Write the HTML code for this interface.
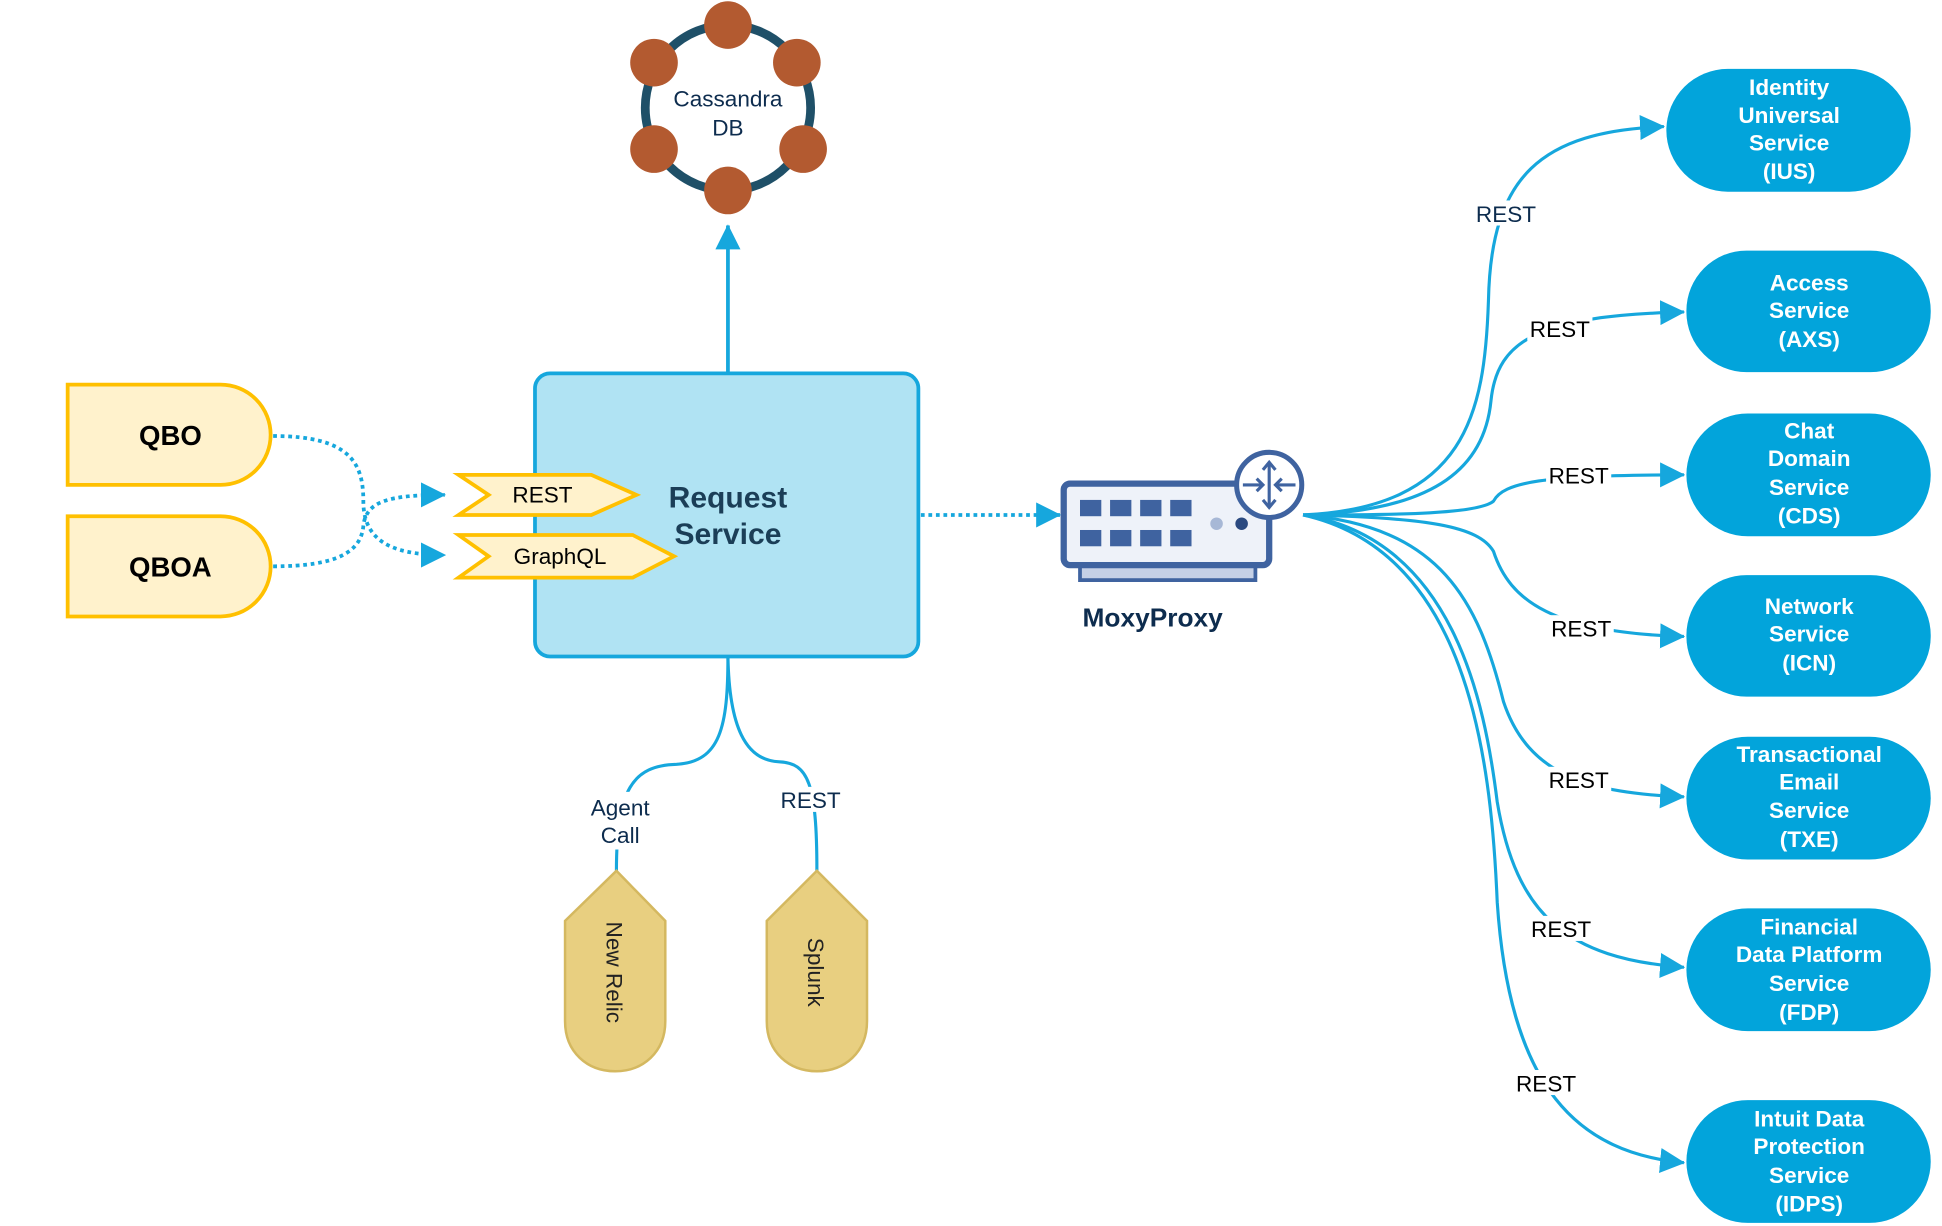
<!DOCTYPE html>
<html><head><meta charset="utf-8"><style>
html,body{margin:0;padding:0;background:#fff;}
svg{display:block;}
text{font-family:"Liberation Sans",sans-serif;}
</style></head><body>
<svg width="1942" height="1226" viewBox="0 0 1550 978.5" preserveAspectRatio="none" xmlns="http://www.w3.org/2000/svg">
<defs>
<marker id="ah" markerWidth="10" markerHeight="10" refX="9" refY="5" orient="auto" markerUnits="userSpaceOnUse" viewBox="0 0 10 10">
<path d="M0,0 L10,5 L0,10 z" fill="#16a7dd"/></marker>
<marker id="ah2" markerWidth="20" markerHeight="20" refX="19" refY="10" orient="auto" markerUnits="userSpaceOnUse" viewBox="0 0 20 20">
<path d="M0,0 L20,10 L0,20 z" fill="#16a7dd"/></marker>
</defs>

<!-- Cassandra -->
<circle cx="581" cy="86" r="66" fill="none" stroke="#1f5068" stroke-width="7"/>
<g fill="#b35a30">
<circle cx="581" cy="20" r="19"/><circle cx="636" cy="50" r="19"/><circle cx="641" cy="119" r="19"/>
<circle cx="581" cy="152" r="19"/><circle cx="522" cy="119" r="19"/><circle cx="522" cy="50" r="19"/>
</g>
<text x="581" y="85" font-size="18" fill="#0d2c4e" text-anchor="middle">Cassandra</text>
<text x="581" y="108" font-size="18" fill="#0d2c4e" text-anchor="middle">DB</text>

<line x1="581" y1="298" x2="581" y2="180" stroke="#16a7dd" stroke-width="3" marker-end="url(#ah2)"/>

<!-- Request box -->
<rect x="427" y="298" width="306" height="226" rx="12" fill="#b0e3f3" stroke="#16a7dd" stroke-width="3"/>
<text x="581" y="405" font-size="24" font-weight="bold" fill="#1b3e57" text-anchor="middle">Request</text>
<text x="581" y="434" font-size="24" font-weight="bold" fill="#1b3e57" text-anchor="middle">Service</text>

<!-- QBO / QBOA -->
<path d="M54,307 L176,307 A40,40 0 0 1 216,347 A40,40 0 0 1 176,387 L54,387 Z" fill="#fff2cc" stroke="#ffc000" stroke-width="3"/>
<text x="136" y="355" font-size="22" font-weight="bold" fill="#000" text-anchor="middle">QBO</text>
<path d="M54,412 L176,412 A40,40 0 0 1 216,452 A40,40 0 0 1 176,492 L54,492 Z" fill="#fff2cc" stroke="#ffc000" stroke-width="3"/>
<text x="136" y="460" font-size="22" font-weight="bold" fill="#000" text-anchor="middle">QBOA</text>

<path d="M218,348 C280,348 290,370 290,400 C290,430 310,443 355,443" fill="none" stroke="#16a7dd" stroke-width="3" stroke-dasharray="3,3" marker-end="url(#ah2)"/>
<path d="M218,452 C270,452 288,440 290,420 C292,400 310,395 355,395" fill="none" stroke="#16a7dd" stroke-width="3" stroke-dasharray="3,3" marker-end="url(#ah2)"/>

<!-- Tags -->
<path d="M366,379 L472,379 L508,395 L472,411 L366,411 L390,395 Z" fill="#fff2cc" stroke="#ffc000" stroke-width="3"/>
<text x="433" y="401" font-size="18" fill="#000" text-anchor="middle">REST</text>
<path d="M366,427 L505,427 L538,444 L505,461 L366,461 L390,444 Z" fill="#fff2cc" stroke="#ffc000" stroke-width="3"/>
<text x="447" y="450" font-size="18" fill="#000" text-anchor="middle">GraphQL</text>

<line x1="735" y1="411" x2="846" y2="411" stroke="#16a7dd" stroke-width="3" stroke-dasharray="3,3" marker-end="url(#ah2)"/>

<!-- MoxyProxy -->
<rect x="862" y="449" width="140" height="14" fill="#c5d0e6" stroke="#3f63a0" stroke-width="3"/>
<rect x="849" y="386" width="164" height="65" rx="5" fill="#eef2f9" stroke="#3f63a0" stroke-width="5"/>
<g fill="#3f63a0">
<rect x="862" y="399" width="17" height="13"/><rect x="886" y="399" width="17" height="13"/><rect x="910" y="399" width="17" height="13"/><rect x="934" y="399" width="17" height="13"/>
<rect x="862" y="423" width="17" height="13"/><rect x="886" y="423" width="17" height="13"/><rect x="910" y="423" width="17" height="13"/><rect x="934" y="423" width="17" height="13"/>
</g>
<circle cx="971" cy="418" r="5" fill="#a7b8d6"/><circle cx="991" cy="418" r="5" fill="#2b4a80"/>
<circle cx="1013" cy="387" r="26" fill="#fff" stroke="#3f63a0" stroke-width="4"/>
<g stroke="#3f63a0" stroke-width="2.5" fill="none">
<line x1="1013" y1="370" x2="1013" y2="404"/><path d="M1008,375 L1013,369 L1018,375 M1008,399 L1013,405 L1018,399"/>
<line x1="992" y1="387" x2="1008" y2="387"/><path d="M1003,382 L1008,387 L1003,392"/>
<line x1="1018" y1="387" x2="1034" y2="387"/><path d="M1023,382 L1018,387 L1023,392"/>
</g>
<text x="920" y="500" font-size="21" font-weight="bold" fill="#0d2c4e" text-anchor="middle">MoxyProxy</text>

<!-- Fan connectors -->
<g fill="none" stroke="#16a7dd" stroke-width="2.5">
<path d="M1040,411 C1170,405 1185,330 1188,240 C1190,140 1230,105 1328,101" marker-end="url(#ah2)"/>
<path d="M1040,411 C1150,408 1185,370 1190,320 C1195,270 1230,252 1344,249" marker-end="url(#ah2)"/>
<path d="M1040,411 C1120,411 1180,410 1192,400 C1200,385 1230,379 1344,379" marker-end="url(#ah2)"/>
<path d="M1040,411 C1140,413 1180,420 1192,440 C1205,480 1240,505 1344,508" marker-end="url(#ah2)"/>
<path d="M1040,411 C1150,420 1180,480 1200,560 C1220,620 1270,633 1344,636" marker-end="url(#ah2)"/>
<path d="M1040,411 C1160,430 1185,560 1195,640 C1210,730 1250,765 1344,772" marker-end="url(#ah2)"/>
<path d="M1040,411 C1170,440 1190,600 1195,720 C1205,870 1260,920 1344,928" marker-end="url(#ah2)"/>
</g>
<g font-size="18" text-anchor="middle">
<rect x="1176" y="160" width="52" height="20" fill="#fff"/><text x="1202" y="177" fill="#0d2c4e">REST</text>
<rect x="1219" y="252" width="52" height="20" fill="#fff"/><text x="1245" y="269" fill="#000">REST</text>
<rect x="1234" y="369" width="52" height="20" fill="#fff"/><text x="1260" y="386" fill="#000">REST</text>
<rect x="1236" y="491" width="52" height="20" fill="#fff"/><text x="1262" y="508" fill="#000">REST</text>
<rect x="1234" y="612" width="52" height="20" fill="#fff"/><text x="1260" y="629" fill="#000">REST</text>
<rect x="1220" y="731" width="52" height="20" fill="#fff"/><text x="1246" y="748" fill="#000">REST</text>
<rect x="1208" y="854" width="52" height="20" fill="#fff"/><text x="1234" y="871" fill="#000">REST</text>
</g>

<!-- Services -->
<g fill="#02a4db">
<rect x="1330" y="55" width="195" height="98" rx="49"/>
<rect x="1346" y="200" width="195" height="97" rx="48"/>
<rect x="1346" y="330" width="195" height="98" rx="49"/>
<rect x="1346" y="459" width="195" height="97" rx="48"/>
<rect x="1346" y="588" width="195" height="98" rx="49"/>
<rect x="1346" y="725" width="195" height="98" rx="49"/>
<rect x="1346" y="878" width="195" height="98" rx="49"/>
</g>
<g font-size="18" font-weight="bold" fill="#fff" text-anchor="middle">
<text x="1428" y="76">Identity</text><text x="1428" y="98">Universal</text><text x="1428" y="120">Service</text><text x="1428" y="143">(IUS)</text>
<text x="1444" y="232">Access</text><text x="1444" y="254">Service</text><text x="1444" y="277">(AXS)</text>
<text x="1444" y="350">Chat</text><text x="1444" y="372">Domain</text><text x="1444" y="395">Service</text><text x="1444" y="418">(CDS)</text>
<text x="1444" y="490">Network</text><text x="1444" y="512">Service</text><text x="1444" y="535">(ICN)</text>
<text x="1444" y="608">Transactional</text><text x="1444" y="630">Email</text><text x="1444" y="653">Service</text><text x="1444" y="676">(TXE)</text>
<text x="1444" y="746">Financial</text><text x="1444" y="768">Data Platform</text><text x="1444" y="791">Service</text><text x="1444" y="814">(FDP)</text>
<text x="1444" y="899">Intuit Data</text><text x="1444" y="921">Protection</text><text x="1444" y="944">Service</text><text x="1444" y="967">(IDPS)</text>
</g>

<!-- Bottom -->
<g fill="none" stroke="#16a7dd" stroke-width="2.5">
<path d="M581,524 C581,580 575,608 540,610 C505,611 492,630 492,695"/>
<path d="M581,524 C582,580 595,607 622,608 C645,609 652,625 652,695"/>
</g>
<rect x="466" y="632" width="58" height="46" fill="#fff"/>
<text x="495" y="651" font-size="18" fill="#0d2c4e" text-anchor="middle">Agent</text>
<text x="495" y="673" font-size="18" fill="#0d2c4e" text-anchor="middle">Call</text>
<rect x="620" y="628" width="55" height="20" fill="#fff"/>
<text x="647" y="645" font-size="18" fill="#0d2c4e" text-anchor="middle">REST</text>

<path d="M492,695 L531,735 L531,815 C531,840 513,855 491,855 C469,855 451,840 451,815 L451,735 Z" fill="#e8cf80" stroke="#d4b860" stroke-width="2"/>
<path d="M652,695 L692,735 L692,815 C692,840 674,855 652,855 C630,855 612,840 612,815 L612,735 Z" fill="#e8cf80" stroke="#d4b860" stroke-width="2"/>
<text transform="translate(484,776) rotate(90)" font-size="18" fill="#222" text-anchor="middle">New Relic</text>
<text transform="translate(645,776) rotate(90)" font-size="18" fill="#222" text-anchor="middle">Splunk</text>
</svg>
</body></html>
